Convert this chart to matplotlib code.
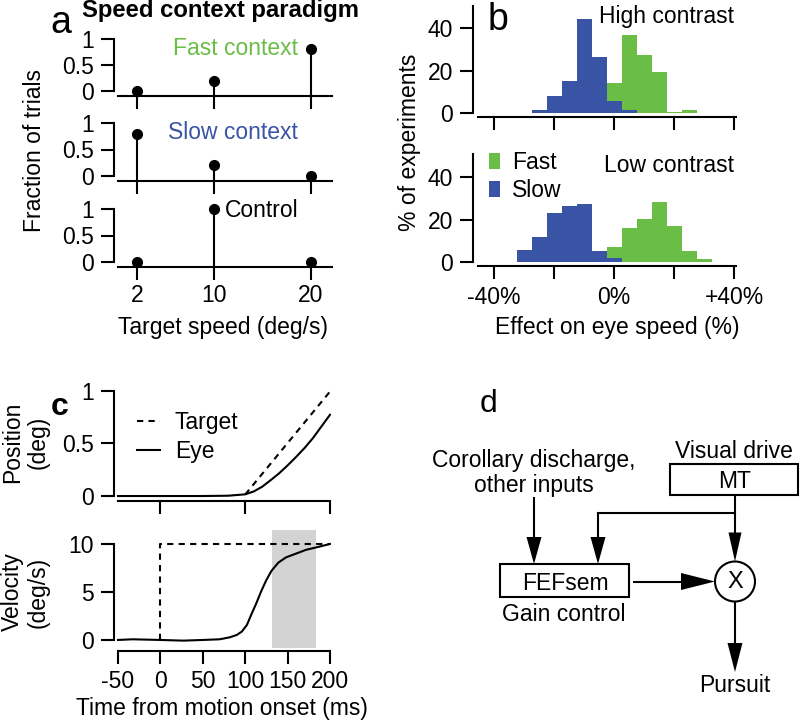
import matplotlib.pyplot as plt
from matplotlib.patches import Rectangle, Circle, Polygon

plt.rcParams['font.family'] = ['Liberation Sans', 'DejaVu Sans']
plt.rcParams['font.size'] = 16.5
plt.rcParams['axes.linewidth'] = 1.5
plt.rcParams['axes.unicode_minus'] = False

W, H = 800, 722
GREEN = '#6abd45'
BLUE = '#3a54a5'
LW = 1.5

# ---- panel a: speed distributions
speeds = [2, 10, 20]
fast_frac = [0, 0.2, 0.8]
slow_frac = [0.8, 0.2, 0]
control_frac = [0, 1, 0]

# ---- panel b: histograms (% of experiments), bin width 5 %
bin_w = 5
hi_slow_c = [-25, -20, -15, -10, -5, 0, 5]
hi_slow_h = [1.6, 7.8, 15.1, 44.4, 26.5, 5.8, 1.6]
hi_fast_c = [0, 5, 10, 15, 20, 25]
hi_fast_h = [14.0, 36.9, 27.5, 19.3, 0.4, 1.4]
lo_slow_c = [-30, -25, -20, -15, -10, -5, 0]
lo_slow_h = [5.8, 11.7, 23.2, 26.5, 27.5, 5.4, 1.7]
lo_fast_c = [0, 5, 10, 15, 20, 25, 30]
lo_fast_h = [7.3, 16.2, 20.2, 28.3, 17.1, 5.4, 1.4]

# ---- panel c: traces
t_pos = [-50, 0, 50, 80, 100, 110, 120, 130, 140, 150, 160, 170, 180, 190, 200]
eye_pos = [0, 0, 0, 0.003, 0.016, 0.043, 0.088, 0.15, 0.215, 0.29, 0.37, 0.455, 0.55, 0.66, 0.77]
t_tpos = [100, 200]
target_pos = [0.014, 0.99]
t_vel = [-50, -33, 0, 27, 50, 70, 82, 90, 96, 102, 107, 113, 119, 125, 131, 139,
         148, 160, 172, 184, 200]
eye_vel = [0, 0.07, 0, -0.07, 0, 0.07, 0.28, 0.52, 0.87, 1.56, 2.6, 3.8, 5.1, 6.25,
           7.2, 8.05, 8.6, 9.0, 9.4, 9.65, 10.0]
t_tvel = [0, 0, 200]
target_vel = [0, 10, 10]
window = [132, 184]

fig = plt.figure(figsize=(8, 7.22), dpi=100)


def px_axes(x0, y0, x1, y1):
    return fig.add_axes([x0 / W, 1 - y1 / H, (x1 - x0) / W, (y1 - y0) / H])


def txt(x, y, s, **kw):
    fig.text(x / W, 1 - y / H, s, **kw)


def clean(ax, xlen=9.5, ylen=9.5, xpad=2.5, ypad=5):
    ax.spines['top'].set_visible(False)
    ax.spines['right'].set_visible(False)
    ax.patch.set_visible(False)
    ax.tick_params(axis='x', length=xlen, width=LW, pad=xpad, labelsize=16.5)
    ax.tick_params(axis='y', length=ylen, width=LW, pad=ypad, labelsize=16.5)


# ---------------- a
rows = [(39, 96.2, fast_frac), (123, 181.3, slow_frac), (209, 267.3, control_frac)]
for i, (top, bot, vals) in enumerate(rows):
    ax = px_axes(114.3, top, 332.3, bot)
    ax.set_xlim(-0.35, 22.2)
    ax.set_ylim(-0.1, 1)
    ml, sl, bl = ax.stem(speeds, vals, linefmt='k-', markerfmt='ko', basefmt=' ', bottom=-0.1)
    ml.set_markersize(7)
    ml.set_clip_on(False)
    sl.set_linewidth(LW)
    bl.set_visible(False)
    clean(ax)
    ax.spines['left'].set_bounds(0, 1)
    ax.spines['bottom'].set_bounds(0, 22.2)
    ax.set_yticks([0, 0.5, 1])
    ax.set_yticklabels(['0', '0.5', '1'])
    ax.set_xticks(speeds)
    if i < 2:
        ax.set_xticklabels([])

txt(61, 23, 'a', fontsize=27, ha='center', va='center')
txt(82, 17, 'Speed context paradigm', fontsize=17.2, fontweight='bold', ha='left', va='baseline')
txt(298, 55, 'Fast context', color=GREEN, ha='right', va='baseline')
txt(298, 139, 'Slow context', color=BLUE, ha='right', va='baseline')
txt(298, 217, 'Control', ha='right', va='baseline')
txt(35, 150, 'Fraction of trials', rotation=90, ha='center', va='center')
txt(223, 334, 'Target speed (deg/s)', ha='center', va='baseline')

# ---------------- b
b_rows = [(5.5, 116.6, -1.7, 50.6, hi_fast_c, hi_fast_h, hi_slow_c, hi_slow_h),
          (154, 266.3, -2.0, 50.8, lo_fast_c, lo_fast_h, lo_slow_c, lo_slow_h)]
for i, (top, bot, y0, y1, fc, fh, sc, sh) in enumerate(b_rows):
    ax = px_axes(473, top, 735.5, bot)
    ax.set_xlim(-47, 40.5)
    ax.set_ylim(y0, y1)
    ax.bar(fc, fh, width=bin_w, color=GREEN, linewidth=0, label='Fast')
    ax.bar(sc, sh, width=bin_w, color=BLUE, linewidth=0, label='Slow')
    clean(ax, xpad=5)
    ax.spines['left'].set_bounds(0, y1)
    ax.spines['bottom'].set_bounds(-45.3, 40.5)
    ax.set_yticks([0, 20, 40])
    ax.set_xticks([-40, -20, 0, 20, 40])
    if i == 0:
        ax.set_xticklabels([])
    else:
        ax.set_xticklabels(['-40%', '', '0%', '', '+40%'])
        ax.legend(loc='upper left', bbox_to_anchor=(489 / W, 1 - 151 / H),
                  bbox_transform=fig.transFigure, frameon=False, handlelength=0.5,
                  handleheight=0.7, handletextpad=0.5, labelspacing=0.2,
                  borderpad=0, borderaxespad=0)

txt(498, 20, 'b', fontsize=27, ha='center', va='center')
txt(734, 23, 'High contrast', ha='right', va='baseline')
txt(734, 172, 'Low contrast', ha='right', va='baseline')
txt(410, 142, '% of experiments', rotation=90, ha='center', va='center')
txt(617, 334, 'Effect on eye speed (%)', ha='center', va='baseline')

# ---------------- c
dash = (0, (3, 2.5))
ax = px_axes(114, 390.5, 331, 501.3)
ax.set_xlim(-54.7, 201.2)
ax.set_ylim(-0.05, 1.0)
ax.plot(t_tpos, target_pos, color='k', lw=LW, ls=dash, label='Target')
ax.plot(t_pos, eye_pos, color='k', lw=LW, label='Eye')
clean(ax)
ax.spines['left'].set_bounds(0, 1)
ax.spines['bottom'].set_bounds(-50, 200)
ax.set_xticks([0, 100, 200])
ax.set_xticklabels([])
ax.set_yticks([0, 0.5, 1])
ax.set_yticklabels(['0', '0.5', '1'])
ax.legend(loc='upper left', bbox_to_anchor=(137 / W, 1 - 411 / H),
          bbox_transform=fig.transFigure, frameon=False, handlelength=1.0,
          handletextpad=0.65, labelspacing=0.25, borderpad=0, borderaxespad=0)

ax = px_axes(114, 529.6, 331, 651)
ax.set_xlim(-54.7, 201.2)
ax.set_ylim(-1.15, 11.5)
ax.axvspan(window[0], window[1], ymin=0.028, ymax=1, color='#d3d3d3', lw=0, zorder=0)
ax.plot(t_tvel, target_vel, color='k', lw=LW, ls=dash)
ax.plot(t_vel, eye_vel, color='k', lw=LW)
clean(ax, xpad=4)
ax.spines['left'].set_bounds(0, 10)
ax.spines['bottom'].set_bounds(-50, 200)
ax.set_xticks([-50, 0, 50, 100, 150, 200])
ax.set_yticks([0, 5, 10])

txt(60, 407, 'c', fontsize=23, fontweight='bold', ha='center', va='center')
txt(25, 442, 'Position\n(deg)', rotation=90, ha='center', va='center', linespacing=1.15)
txt(25, 592, 'Velocity\n(deg/s)', rotation=90, ha='center', va='center', linespacing=1.15)
txt(222, 715, 'Time from motion onset (ms)', ha='center', va='baseline')

# ---------------- d (diagram, pixel coordinates)
ov = fig.add_axes([0, 0, 1, 1])
ov.set_xlim(0, W)
ov.set_ylim(H, 0)
ov.axis('off')


def arrow(x0, y0, x1, y1, hl, hw):
    dx, dy = x1 - x0, y1 - y0
    L = (dx ** 2 + dy ** 2) ** 0.5
    ux, uy = dx / L, dy / L
    bx, by = x1 - ux * hl, y1 - uy * hl
    ov.plot([x0, bx], [y0, by], color='k', lw=LW, solid_capstyle='butt')
    ov.add_patch(Polygon([(x1, y1), (bx - uy * hw, by + ux * hw), (bx + uy * hw, by - ux * hw)],
                         closed=True, color='k', lw=0))


ov.add_patch(Rectangle((670, 464), 128, 31, fill=False, lw=LW))
ov.add_patch(Rectangle((500, 564), 129, 33, fill=False, lw=LW))
ov.add_patch(Circle((735, 581.5), 20, fill=False, lw=LW))
arrow(735, 495, 735, 561.5, 29, 6.5)
ov.plot([735, 598], [513, 513], color='k', lw=LW)
arrow(598, 512.3, 598, 564, 27, 7.5)
arrow(534, 497, 534, 564, 27, 7.5)
arrow(633, 581.5, 715, 581.5, 34, 8.5)
arrow(735, 601.5, 735, 672, 29, 7.5)

txt(489, 404, 'd', fontsize=23, ha='center', va='center')
txt(534, 467, 'Corollary discharge,', ha='center', va='baseline')
txt(534, 492, 'other inputs', ha='center', va='baseline')
txt(734, 458, 'Visual drive', ha='center', va='baseline')
txt(735, 488, 'MT', ha='center', va='baseline')
txt(565, 590, 'FEFsem', ha='center', va='baseline')
txt(564, 621, 'Gain control', ha='center', va='baseline')
txt(735, 582, 'X', fontsize=17, ha='center', va='center')
txt(735, 692, 'Pursuit', ha='center', va='baseline')

fig.savefig('out.png', dpi=100)
